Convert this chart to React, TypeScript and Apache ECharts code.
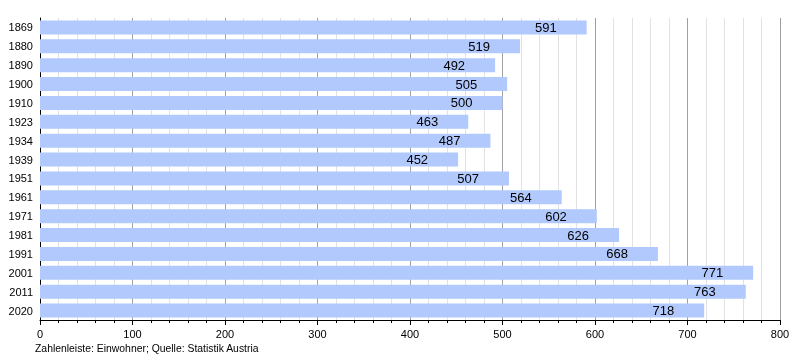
import React, { useEffect, useRef } from "react";
import * as echarts from "echarts";

const years = ["1869", "1880", "1890", "1900", "1910", "1923", "1934", "1939", "1951", "1961", "1971", "1981", "1991", "2001", "2011", "2020"];
const population = [591, 519, 492, 505, 500, 463, 487, 452, 507, 564, 602, 626, 668, 771, 763, 718];
const caption = "Zahlenleiste: Einwohner; Quelle: Statistik Austria";

const FONT = "'Liberation Sans', Arial, sans-serif";

export default function App() {
  const ref = useRef<HTMLDivElement>(null);
  useEffect(() => {
    if (!ref.current) return;
    const chart = echarts.init(ref.current, undefined, { renderer: "svg" });
    chart.setOption({
      animation: false,
      textStyle: { fontFamily: FONT },
      grid: { left: 40, right: 20, top: 18, bottom: 40, containLabel: false },
      xAxis: {
        type: "value",
        min: 0,
        max: 800,
        interval: 100,
        axisLine: { show: true, lineStyle: { color: "#000", width: 1 } },
        axisTick: { show: true, length: 5, lineStyle: { color: "#000" } },
        minorTick: { show: true, splitNumber: 5, length: 3, lineStyle: { color: "#000" } },
        axisLabel: { color: "#000", fontSize: 11, fontFamily: FONT, margin: 8 },
        splitLine: { show: true, lineStyle: { color: "#a0a0a0", width: 1 } },
        minorSplitLine: { show: true, lineStyle: { color: "#e2e2e2", width: 1 } },
      },
      yAxis: {
        type: "category",
        data: years,
        inverse: true,
        axisLine: { show: true, lineStyle: { color: "#000", width: 1 } },
        axisTick: { show: false },
        axisLabel: { color: "#000", fontSize: 11, fontFamily: FONT, margin: 7 },
        splitLine: { show: false },
      },
      series: [
        {
          type: "bar",
          data: population,
          barWidth: 14,
          itemStyle: { color: "#b2c9fd" },
          label: {
            show: true,
            position: "insideRight",
            distance: 30,
            color: "#000",
            fontSize: 13,
            fontFamily: FONT,
          },
        },
      ],
      graphic: [
        {
          type: "text",
          left: 35,
          top: 343,
          style: { text: caption, fill: "#000", font: `10.4px ${FONT}` },
        },
      ],
    });
    return () => chart.dispose();
  }, []);
  return <div ref={ref} style={{ position: "fixed", left: 0, top: 0, width: 800, height: 360 }} />;
}
